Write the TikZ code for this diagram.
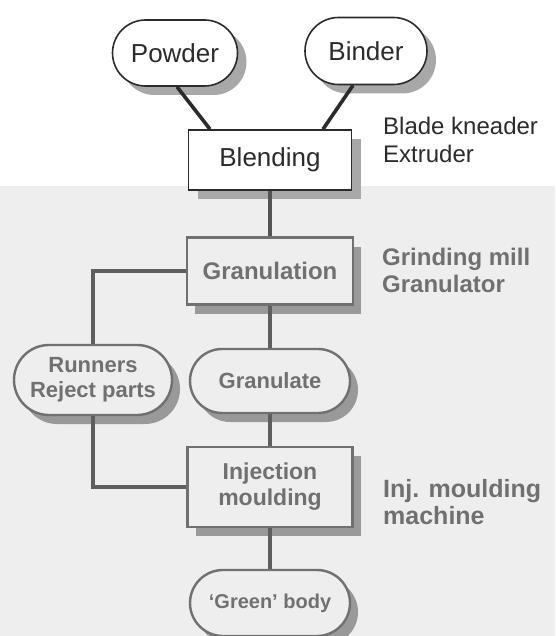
\documentclass[tikz,border=0pt]{standalone}
\usepackage{fontspec}
\setmainfont{Liberation Sans}
\usetikzlibrary{shapes.misc,shadows,calc}
\definecolor{ink}{HTML}{2B2B2B}
\definecolor{faded}{HTML}{707070}
\definecolor{lowline}{HTML}{5E5E5E}
\definecolor{shade}{HTML}{A8A8A8}
\definecolor{lowshade}{HTML}{999999}
\definecolor{paperlow}{HTML}{EEEEEE}
\begin{document}
\begin{tikzpicture}[x=1pt,y=-1pt,
  pill/.style={rounded rectangle, draw, line width=1.6pt, inner sep=0pt},
  boxnode/.style={rectangle, draw, line width=1.6pt, inner sep=0pt},
  topshape/.style={draw=ink, fill=white, text=ink, font=\fontsize{26}{28}\selectfont,
    drop shadow={shadow xshift=9pt, shadow yshift=-9pt, fill=shade, opacity=1}},
  lowshape/.style={draw=faded, line width=2.4pt, fill=paperlow, text=faded, font=\bfseries\fontsize{22}{25}\selectfont,
    drop shadow={shadow xshift=8pt, shadow yshift=-9pt, fill=lowshade, opacity=1}},
  sidetop/.style={text=ink, font=\fontsize{24}{26}\selectfont, inner sep=0pt, anchor=base west},
  sidelow/.style={text=faded, font=\bfseries\fontsize{24}{26}\selectfont, inner sep=0pt, anchor=base west},
  topconn/.style={draw=ink, line width=3.6pt},
  lowconn/.style={draw=lowline, line width=4pt}]
\useasboundingbox (0,0) rectangle (555,636);
\clip (0,0) rectangle (555,636);
\fill[white] (0,0) rectangle (555,636);
\fill[paperlow] (0,186) rectangle (555,636);

% upper part
\node[pill, topshape, minimum width=125pt, minimum height=66pt] (powder) at (175,53) {Powder};
\node[pill, topshape, minimum width=122pt, minimum height=67pt] (binder) at (366,51) {Binder};
\node[boxnode, topshape, minimum width=163pt, minimum height=60pt] (blending) at (270,160) {Blending};

% lower part
\node[boxnode, lowshape, font=\bfseries\fontsize{24}{26}\selectfont, minimum width=166pt, minimum height=67pt] (gran) at (270,271) {Granulation};
\node[pill, lowshape, minimum width=158pt, minimum height=70pt, align=center] (runners) at (93,380) {Runners\\Reject parts};
\node[pill, lowshape, minimum width=160pt, minimum height=64pt] (granulate) at (270,381) {Granulate};
\node[boxnode, lowshape, font=\bfseries\fontsize{23}{26}\selectfont, minimum width=165pt, minimum height=80pt, align=center] (inj) at (270,487) {Injection\\moulding};
\node[pill, lowshape, font=\bfseries\fontsize{20}{24}\selectfont, minimum width=160pt, minimum height=66pt] (green) at (270,603) {`Green' body};

% side labels
\node[sidetop] (bk) at (383,135) {Blade kneader};
\node[sidetop] (ex) at (383,163) {Extruder};
\node[sidelow] (gm) at (382,265) {Grinding mill};
\node[sidelow] (gr) at (382,292) {Granulator};
\node[sidelow, font=\bfseries\fontsize{25}{27}\selectfont] (im) at (383,497) {Inj. moulding};
\node[sidelow, font=\bfseries\fontsize{25}{27}\selectfont] (ma) at (383,524) {machine};

% connectors
\draw[topconn] ([xshift=2pt]powder.south) -- ([xshift=-60pt]blending.north);
\draw[topconn] ([xshift=-13pt]binder.south) -- ([xshift=53pt]blending.north);
\draw[topconn, draw=lowline!80!ink] (blending.south) -- (gran.north);
\draw[lowconn] (gran.west) -| (runners.north);
\draw[lowconn] (gran.south) -- (granulate.north);
\draw[lowconn] (granulate.south) -- (inj.north);
\draw[lowconn] (runners.south) |- (inj.west);
\draw[lowconn] (inj.south) -- (green.north);
\end{tikzpicture}
\end{document}
